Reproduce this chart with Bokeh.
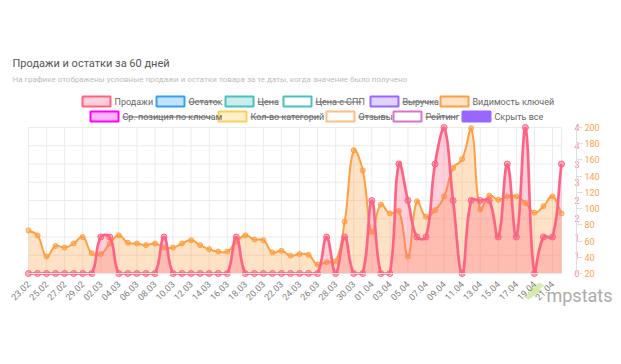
import numpy as np
import pandas as pd
from bokeh.plotting import figure
from bokeh.models import Range1d, LinearAxis, FixedTicker
from bokeh.embed import file_html
from bokeh.resources import INLINE
from bokeh.core.properties import value

# ---------------- data ----------------
dates = pd.date_range("2024-02-23", periods=60).strftime("%d.%m").tolist()

sales = [0, 0, 0, 0, 0, 0, 0, 0, 1, 1,
         0, 0, 0, 0, 0, 1, 0, 0, 0, 0,
         0, 0, 0, 1, 0, 0, 0, 0, 0, 0,
         0, 0, 0, 1, 0, 1, 0, 0, 2, 0,
         0, 3, 2, 1, 1, 3, 4, 2, 0, 2,
         2, 2, 1, 3, 1, 4, 0, 1, 1, 3]

visibility = [73, 67, 41, 54, 52, 57, 65, 45, 44, 57,
              67, 58, 57, 55, 57, 52, 52, 57, 61, 55,
              50, 47, 47, 59, 67, 62, 61, 46, 48, 42,
              44, 43, 31, 34, 35, 84, 172, 147, 71, 105,
              94, 97, 41, 109, 90, 98, 115, 150, 161, 199,
              99, 116, 111, 115, 115, 107, 95, 103, 115, 94]

sales_ticks = [0, 0.5, 1, 1.5, 2, 2.5, 3, 3.5, 4]
sales_tick_labels = ["0", "1", "1", "2", "2", "3", "3", "4", "4"]
visibility_ticks = [20, 40, 60, 80, 100, 120, 140, 160, 180, 200]

title_text = "Продажи и остатки за 60 дней"
subtitle_text = "На графике отображены условные продажи и остатки товара за те даты, когда значение было получено"
watermark_text = "mpstats"

legend_labels = [["Продажи", "Остаток", "Цена", "Цена с СПП", "Выручка", "Видимость ключей"],
                 ["Ср. позиция по ключам", "Кол-во категорий", "Отзывы", "Рейтинг", "Скрыть все"]]
legend_hidden = [[False, True, True, True, True, False],
                 [True, True, True, True, False]]

# ---------------- style / layout (canvas pixels) ----------------
PINK = "#ff6384"
ORANGE = "#ff9f40"
legend_border = [["#ff6384", "#36a2eb", "#4bc0c0", "#4bc0c0", "#9966ff", "#ff9f40"],
                 ["#ff00ff", "#ffcd56", "#ffbe82", "#da70d6", "#9966ff"]]
legend_fill = [["#ff6384", "#36a2eb", "#4bc0c0", "#ffffff", "#9966ff", "#ff9f40"],
               ["#ff00ff", "#ffcd56", "#ffffff", "#ffffff", "#9966ff"]]
legend_fill_alpha = [[0.3, 0.3, 0.3, 1, 0.3, 0.3], [0.3, 0.3, 1, 1, 1]]
legend_box_left = [[82, 156, 225, 283, 370, 440], [90, 218, 326, 393, 462]]
legend_strike_w = [[0, 31, 20, 46, 34, 0], [90, 69, 30, 32, 0]]
legend_row_y = [101, 116]

# logo mark (decoration), canvas pixels
logo_xs = [[523, 528, 542, 537], [527, 532, 544, 539]]
logo_ys = [[296, 299, 290, 287], [290, 293, 285, 282]]

FIG_W, FIG_H = 619, 358
PLOT_L, PLOT_R = 28, 561
PLOT_T, PLOT_B = 127, 273
N = len(sales)
XPX = (PLOT_R - PLOT_L) / (N - 1)
PLOT_H = PLOT_B - PLOT_T
YPX_S = PLOT_H / 4.0
YPX_V = PLOT_H / 180.0


def smooth(ys, ypx, ymin, ymax, tension=0.4, n=14):
    """Chart.js-like bezier smoothing of the polyline through the points (rendering only)."""
    X = np.arange(N) * XPX
    Y = np.asarray(ys, float) * ypx
    cpp = np.zeros((N, 2))
    cpn = np.zeros((N, 2))
    for i in range(N):
        p0 = (X[i - 1], Y[i - 1]) if i > 0 else (X[i], Y[i])
        p1 = (X[i], Y[i])
        p2 = (X[i + 1], Y[i + 1]) if i < N - 1 else (X[i], Y[i])
        d01 = np.hypot(p1[0] - p0[0], p1[1] - p0[1])
        d12 = np.hypot(p2[0] - p1[0], p2[1] - p1[1])
        tot = d01 + d12
        s01 = d01 / tot if tot else 0
        s12 = d12 / tot if tot else 0
        fa, fb = tension * s01, tension * s12
        cpp[i] = (p1[0] - fa * (p2[0] - p0[0]), p1[1] - fa * (p2[1] - p0[1]))
        cpn[i] = (p1[0] + fb * (p2[0] - p0[0]), p1[1] + fb * (p2[1] - p0[1]))
    cpp[:, 1] = np.clip(cpp[:, 1], ymin * ypx, ymax * ypx)
    cpn[:, 1] = np.clip(cpn[:, 1], ymin * ypx, ymax * ypx)
    xs, yv = [X[0]], [Y[0]]
    t = np.linspace(0, 1, n + 1)[1:]
    for i in range(N - 1):
        P0 = np.array([X[i], Y[i]]); P1 = cpn[i]; P2 = cpp[i + 1]; P3 = np.array([X[i + 1], Y[i + 1]])
        b = ((1 - t) ** 3)[:, None] * P0 + (3 * (1 - t) ** 2 * t)[:, None] * P1 + \
            (3 * (1 - t) * t ** 2)[:, None] * P2 + (t ** 3)[:, None] * P3
        xs.extend(b[:, 0]); yv.extend(b[:, 1])
    return np.array(xs) / XPX, np.array(yv) / ypx


# the frame covers the whole canvas; the data area sits inside it
idx = list(range(N))
p = figure(frame_width=FIG_W, frame_height=FIG_H,
           x_range=Range1d(-PLOT_L / XPX, (FIG_W - PLOT_L) / XPX),
           y_range=Range1d(-(FIG_H - PLOT_B) / YPX_S, 4 + PLOT_T / YPX_S),
           y_axis_location="right", toolbar_location=None, output_backend="svg", min_border=0)
p.extra_y_ranges = {"vis": Range1d(20 - (FIG_H - PLOT_B) / YPX_V, 200 + PLOT_T / YPX_V),
                    "hy": Range1d(FIG_H, 0)}
p.extra_x_ranges = {"hx": Range1d(0, FIG_W)}
p.outline_line_color = None
p.grid.visible = False

# watermark logo mark (behind everything)
p.patches(xs=logo_xs, ys=logo_ys, fill_color="#d3e8a6", fill_alpha=0.9, line_color=None,
          x_range_name="hx", y_range_name="hy")

# grid lines (from tick lists)
grid_x = idx[::2] + [N - 1]
p.segment(x0=grid_x, y0=[0] * len(grid_x), x1=grid_x, y1=[4] * len(grid_x),
          line_color="#ebebeb", line_width=1)
p.segment(x0=[0] * len(sales_ticks), y0=sales_ticks, x1=[N - 1] * len(sales_ticks), y1=sales_ticks,
          line_color="#ebebeb", line_width=1)

# x axis
xa = p.xaxis[0]
xa.fixed_location = 0
xa.ticker = FixedTicker(ticks=idx[::2])
xa.bounds = (0, N - 1)
xa.major_label_overrides = {i: dates[i] for i in idx[::2]}
xa.major_label_orientation = np.pi / 4
xa.axis_line_color = "#e6e6e6"
xa.major_tick_line_color = None
xa.minor_tick_line_color = None
xa.major_label_text_font = "Roboto"
xa.major_label_text_font_size = "9px"
xa.major_label_text_color = "#808080"
xa.major_label_standoff = 3

# pink (sales) axis
ya = p.yaxis[0]
ya.fixed_location = N - 1
ya.ticker = FixedTicker(ticks=sales_ticks)
ya.bounds = (0, 4)
ya.major_label_overrides = {t: l for t, l in zip(sales_ticks, sales_tick_labels)}
ya.axis_line_color = None
ya.major_tick_line_color = None
ya.minor_tick_line_color = None
ya.major_label_standoff = 7
ya.major_label_text_font = "Roboto"
ya.major_label_text_font_size = "9px"
ya.major_label_text_color = "#ff7f9a"

# orange (visibility) axis
va = LinearAxis(y_range_name="vis", ticker=FixedTicker(ticks=visibility_ticks), bounds=(20, 200),
                fixed_location=(N - 1) + 15 / XPX)
va.axis_line_color = "#e0e0e0"
va.major_tick_line_color = "#e0e0e0"
va.major_tick_out = 6
va.major_tick_in = 0
va.minor_tick_line_color = None
va.major_label_standoff = 2
va.major_label_text_font = "Roboto"
va.major_label_text_font_size = "9px"
va.major_label_text_color = "#ffa24a"
p.add_layout(va, "right")

# orange series (drawn first, below)
vx, vy = smooth(visibility, YPX_V, 20, 200)
p.varea(x=vx, y1=np.full(len(vx), 20.0), y2=vy, fill_color=ORANGE, fill_alpha=0.3, y_range_name="vis")
p.line(vx, vy, line_color=ORANGE, line_width=2, y_range_name="vis")
p.scatter(idx, visibility, size=5, fill_color=ORANGE, fill_alpha=0.5, line_color=ORANGE,
          line_width=1, y_range_name="vis")

# pink series (on top)
sx, sy = smooth(sales, YPX_S, 0, 4)
p.varea(x=sx, y1=np.zeros(len(sx)), y2=sy, fill_color=PINK, fill_alpha=0.3)
p.line(sx, sy, line_color=PINK, line_width=2.7)
p.scatter(idx, sales, size=6, fill_color=PINK, fill_alpha=0.5, line_color=PINK, line_width=1)

# ---------------- header (title, subtitle, legend) in canvas-pixel ranges ----------------
p.text(x=[12], y=[63], text=[title_text], x_range_name="hx", y_range_name="hy",
       text_font=value("Roboto"), text_font_size="11px", text_color="#555555",
       text_baseline="alphabetic")
p.text(x=[12], y=[79], text=[subtitle_text], x_range_name="hx", y_range_name="hy",
       text_font=value("Roboto"), text_font_size="8px", text_color="#bdbdbd",
       text_baseline="alphabetic")

for r in range(2):
    yc = legend_row_y[r]
    lefts = legend_box_left[r]
    p.quad(left=lefts, right=[l + 28 for l in lefts], top=[yc - 5] * len(lefts),
           bottom=[yc + 5] * len(lefts), fill_color=legend_fill[r], fill_alpha=legend_fill_alpha[r],
           line_color=legend_border[r], line_width=2, x_range_name="hx", y_range_name="hy")
    p.text(x=[l + 32 for l in lefts], y=[yc] * len(lefts), text=legend_labels[r],
           x_range_name="hx", y_range_name="hy", text_font=value("Roboto"), text_font_size="9px",
           text_color="#666666", text_baseline="middle")
    sl = [l + 32 for l, hdn in zip(lefts, legend_hidden[r]) if hdn]
    sw = [w for w, hdn in zip(legend_strike_w[r], legend_hidden[r]) if hdn]
    p.segment(x0=sl, y0=[yc + 0.5] * len(sl), x1=[a + b for a, b in zip(sl, sw)], y1=[yc + 0.5] * len(sl),
              line_color="#666666", line_width=1, x_range_name="hx", y_range_name="hy")

# watermark text (ends before the right edge of the canvas)
p.text(x=[612], y=[295], text=[watermark_text], x_range_name="hx", y_range_name="hy",
       text_font=value("Roboto"), text_font_size="18px", text_color="#ababab",
       text_baseline="alphabetic", text_align="right")

open("out.html", "w").write(file_html(p, INLINE))
